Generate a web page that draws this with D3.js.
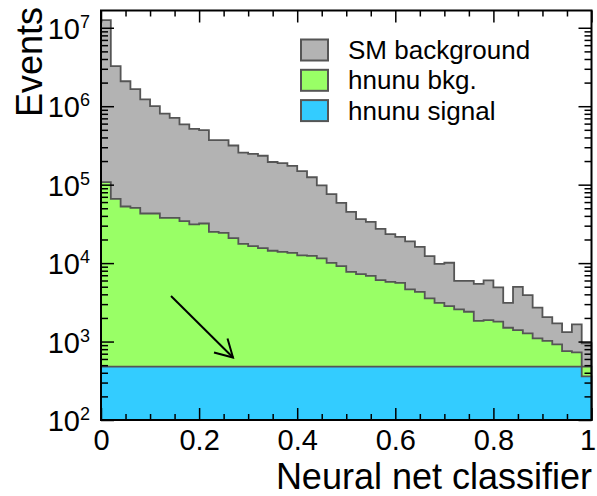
<!DOCTYPE html>
<html>
<head>
<meta charset="utf-8">
<script src="https://cdn.jsdelivr.net/npm/d3@7"></script>
<style>
  body { margin: 0; background: #fff; }
  text { font-family: "Liberation Sans", Arial, Helvetica, sans-serif; fill: #000; }
</style>
</head>
<body>
<svg id="chart"></svg>
<script>
// Constants
const width = 597;
const height = 496;
const margin = { left: 101, right: 5, top: 10.5, bottom: 76 };
const nBins = 50;

// Series values per bin (events), bins of 0.02 from 0 to 1
const signal = [
  480, 480, 480, 480, 480, 480, 480, 480, 480, 480,
  480, 480, 480, 480, 480, 480, 480, 480, 480, 480,
  480, 480, 480, 480, 480, 480, 480, 480, 480, 480,
  480, 480, 480, 480, 480, 480, 480, 480, 480, 480,
  480, 480, 480, 480, 480, 480, 480, 480, 480, 360
];
const hnunuBkg = [
  107500, 65500, 52200, 50100, 42400, 42400, 37300, 37300, 33800, 30600,
  31500, 24600, 23800, 20300, 17100, 16000, 15000, 13900, 13400, 13000,
  12100, 11900, 11000, 9600, 8680, 7270, 6760, 6410, 5590, 5300,
  5130, 4140, 3830, 3070, 2640, 2350, 2090, 1920, 1360, 1400,
  1310, 1020, 920, 790, 620, 540, 440, 277, 248, 120
];
const smBkg = [
  12390000, 3174000, 2027000, 1599000, 1177000, 957000, 769000, 672000, 551000, 483000,
  463000, 344000, 345000, 295000, 239000, 230000, 218000, 180000, 174000, 160000,
  136000, 112000, 86200, 65600, 49500, 37300, 29200, 26700, 21300, 17600,
  16000, 14300, 11800, 8750, 6680, 7270, 3380, 3550, 3610, 4140,
  3110, 1620, 3590, 2640, 1600, 1030, 790, 563, 932, 472
];

// Legend / tick labels
const legendLabels = ["SM background", "hnunu bkg.", "hnunu signal"];
const xMajorTicks = [0, 0.2, 0.4, 0.6, 0.8, 1];
const yDecades = [1e2, 1e3, 1e4, 1e5, 1e6, 1e7];

const colors = { sm: "#b3b3b3", hnunu: "#99ff66", signal: "#33ccff" };
const lineColor = "#555";

const svg = d3.select("#chart")
  .attr("width", width)
  .attr("height", height);

const x = d3.scaleLinear()
  .domain([0, 1])
  .range([margin.left, width - margin.right - 0.5]);

const y = d3.scaleLog()
  .domain([100, 1.66e7])
  .range([height - margin.bottom, margin.top]);

// Stack the three components
const rows = signal.map((s, i) => ({ bin: i, signal: s, hnunu: hnunuBkg[i], sm: smBkg[i] }));
const stack = d3.stack().keys(["signal", "hnunu", "sm"])(rows);

const area = d3.area()
  .curve(d3.curveStepAfter)
  .x(d => x(d.x))
  .y0(y.range()[0])
  .y1(d => y(d.top));

const plot = svg.append("g");

// Draw from the top of the stack down, each filled to the axis (ROOT style)
stack.slice().reverse().forEach(layer => {
  const pts = layer.map((d, i) => ({ x: i / nBins, top: d[1] }));
  pts.push({ x: 1, top: layer[layer.length - 1][1] });
  plot.append("path")
    .datum(pts)
    .attr("d", area)
    .attr("fill", colors[layer.key])
    .attr("stroke", lineColor)
    .attr("stroke-width", 1.8)
    .attr("stroke-linejoin", "miter");
});

// Arrow
const arrow = svg.append("g")
  .attr("stroke", "#000")
  .attr("stroke-width", 2)
  .attr("fill", "none");
arrow.append("line").attr("x1", 171).attr("y1", 296).attr("x2", 233).attr("y2", 357.5);
arrow.append("polyline").attr("points", "214,352.5 233,357.5 227.5,338.5");

// Axes: ticks inside the frame on all four sides
const xMinor = d3.range(0, 1.0001, 0.05).filter(v => xMajorTicks.every(t => Math.abs(t - v) > 1e-6));
const yMinor = [];
yDecades.forEach(p => [2, 3, 4, 5, 6, 7, 8, 9].forEach(m => {
  if (p * m <= y.domain()[1]) yMinor.push(p * m);
}));

function noDomain(g) { g.select(".domain").remove(); }

const bottomY = y.range()[0];
const topY = y.range()[1];
const leftX = x.range()[0];
const rightX = x.range()[1];

svg.append("g").attr("transform", `translate(0,${bottomY})`)
  .call(d3.axisBottom(x).tickValues(xMajorTicks).tickSize(-12).tickPadding(9).tickFormat(d3.format("")))
  .call(noDomain)
  .call(g => g.selectAll("text").attr("font-size", 29).attr("font-family", null)
    .attr("dx", d => d === 1 ? -4 : 0));
svg.append("g").attr("transform", `translate(0,${bottomY})`)
  .call(d3.axisBottom(x).tickValues(xMinor).tickSize(-6).tickFormat(""))
  .call(noDomain);
svg.append("g").attr("transform", `translate(0,${topY})`)
  .call(d3.axisTop(x).tickValues(xMajorTicks).tickSize(-12).tickFormat(""))
  .call(noDomain);
svg.append("g").attr("transform", `translate(0,${topY})`)
  .call(d3.axisTop(x).tickValues(xMinor).tickSize(-6).tickFormat(""))
  .call(noDomain);

svg.append("g").attr("transform", `translate(${leftX},0)`)
  .call(d3.axisLeft(y).tickValues(yDecades).tickSize(-13).tickFormat(""))
  .call(noDomain);
svg.append("g").attr("transform", `translate(${leftX},0)`)
  .call(d3.axisLeft(y).tickValues(yMinor).tickSize(-7).tickFormat(""))
  .call(noDomain);
svg.append("g").attr("transform", `translate(${rightX},0)`)
  .call(d3.axisRight(y).tickValues(yDecades).tickSize(-13).tickFormat(""))
  .call(noDomain);
svg.append("g").attr("transform", `translate(${rightX},0)`)
  .call(d3.axisRight(y).tickValues(yMinor).tickSize(-7).tickFormat(""))
  .call(noDomain);

svg.selectAll(".tick line").attr("stroke", "#000").attr("stroke-width", 1.5);

// Frame
svg.append("rect")
  .attr("x", leftX).attr("y", topY)
  .attr("width", rightX - leftX).attr("height", bottomY - topY)
  .attr("fill", "none").attr("stroke", "#000").attr("stroke-width", 2);

// Y labels 10^n
const yLab = svg.append("g");
yDecades.forEach(v => {
  const t = yLab.append("text")
    .attr("x", 90)
    .attr("y", y(v) + 11)
    .attr("text-anchor", "end")
    .attr("font-size", 29);
  t.append("tspan").text("10");
  t.append("tspan").attr("font-size", 18).attr("dy", -11).text(Math.round(Math.log10(v)));
});

// Axis titles
svg.append("text")
  .attr("x", 592)
  .attr("y", 489)
  .attr("text-anchor", "end")
  .attr("font-size", 36)
  .text("Neural net classifier");

svg.append("text")
  .attr("transform", "translate(42,7) rotate(-90)")
  .attr("text-anchor", "end")
  .attr("font-size", 36)
  .text("Events");

// Legend
const legendColors = [colors.sm, colors.hnunu, colors.signal];
const legend = svg.append("g");
legendLabels.forEach((label, i) => {
  const cy = 50 + i * 30.3;
  legend.append("rect")
    .attr("x", 301).attr("y", cy - 10.5)
    .attr("width", 27).attr("height", 21)
    .attr("fill", legendColors[i])
    .attr("stroke", lineColor)
    .attr("stroke-width", 2);
  legend.append("text")
    .attr("x", 348).attr("y", cy + 9)
    .attr("font-size", 26)
    .text(label);
});
</script>
</body>
</html>
